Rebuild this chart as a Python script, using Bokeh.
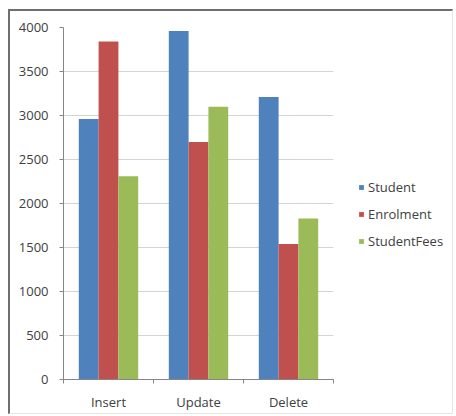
from bokeh.plotting import figure
from bokeh.models import FixedTicker, Legend, LegendItem, Range1d
from bokeh.layouts import row
from bokeh.transform import dodge
from bokeh.embed import file_html
from bokeh.resources import INLINE
from bokeh.models import ColumnDataSource
import numpy as np

categories = ["Insert", "Update", "Delete"]
student = [2960, 3960, 3210]
enrolment = [3840, 2700, 1540]
student_fees = [2310, 3100, 1830]
series_names = ["Student", "Enrolment", "StudentFees"]
colors = ["#4F81BD", "#C0504D", "#9BBB59"]
y_ticks = [0, 500, 1000, 1500, 2000, 2500, 3000, 3500, 4000]

src = ColumnDataSource(dict(
    x=np.arange(len(categories)) + 0.5,
    Student=student, Enrolment=enrolment, StudentFees=student_fees,
))

FONT = "Open Sans"
TXT = "#404040"
FS = "13px"

p = figure(width=330, height=402, output_backend="svg", toolbar_location=None,
           x_range=Range1d(0, 3), y_range=Range1d(0, 4000),
           min_border_left=53, min_border_right=7, min_border_top=16, min_border_bottom=31)
p.outline_line_color = None
p.background_fill_color = "white"
p.border_fill_color = "white"

bw = 0.22
renderers = []
for i, (name, col) in enumerate(zip(series_names, colors)):
    r = p.vbar(x=dodge("x", (i - 1) * bw, range=p.x_range), top=name, width=bw,
               source=src, fill_color=col, line_color=None)
    renderers.append(r)

# axes
p.xaxis.ticker = FixedTicker(ticks=[0.5, 1.5, 2.5], minor_ticks=[0, 1, 2, 3])
p.xaxis.major_label_overrides = {0.5: categories[0], 1.5: categories[1], 2.5: categories[2]}
p.xaxis.major_tick_line_color = None
p.xaxis.major_tick_out = 0
p.xaxis.minor_tick_line_color = "#868686"
p.xaxis.minor_tick_out = 4
p.xaxis.minor_tick_in = 0
p.xaxis.axis_line_color = "#868686"
p.xaxis.major_label_standoff = 9

p.yaxis.ticker = FixedTicker(ticks=y_ticks)
p.yaxis.axis_line_color = "#868686"
p.yaxis.major_tick_line_color = "#868686"
p.yaxis.major_tick_out = 4
p.yaxis.major_tick_in = 0
p.yaxis.minor_tick_line_color = None
p.yaxis.major_label_standoff = 11

for ax in (p.xaxis, p.yaxis):
    ax.major_label_text_font = FONT
    ax.major_label_text_font_size = FS
    ax.major_label_text_color = TXT

p.xgrid.grid_line_color = None
p.ygrid.grid_line_color = "#d4d4d4"
p.ygrid.ticker = FixedTicker(ticks=y_ticks)

# legend panel
lf = figure(width=112, height=402, output_backend="svg", toolbar_location=None,
            x_range=Range1d(0, 1), y_range=Range1d(0, 1),
            min_border_left=0, min_border_right=0, min_border_top=0, min_border_bottom=0)
lf.axis.visible = False
lf.grid.grid_line_color = None
lf.outline_line_color = None
lf.background_fill_color = "white"
lf.border_fill_color = "white"
leg_renderers = []
for name, col in zip(series_names, colors):
    rr = lf.vbar(x=[0.5], top=[0], bottom=[0], width=0.0, fill_color=col, line_color=None)
    leg_renderers.append(rr)

legend = Legend(items=[LegendItem(label=n, renderers=[r]) for n, r in zip(series_names, leg_renderers)],
                location=(18, 129), orientation="vertical",
                glyph_width=6, glyph_height=6, label_standoff=4,
                label_height=14, spacing=9, padding=0, margin=0,
                border_line_color=None, background_fill_alpha=0,
                label_text_font=FONT, label_text_font_size=FS, label_text_color=TXT)
lf.add_layout(legend)

layout = row(p, lf)
layout.styles = {"margin-left": "8px", "margin-top": "9px",
                 "border-left": "2px solid #6f6f6f", "border-top": "2px solid #6f6f6f",
                 "border-right": "1px solid #e6e6e6", "border-bottom": "1px solid #e6e6e6",
                 "background": "white"}

open("out.html", "w").write(file_html(layout, INLINE))
